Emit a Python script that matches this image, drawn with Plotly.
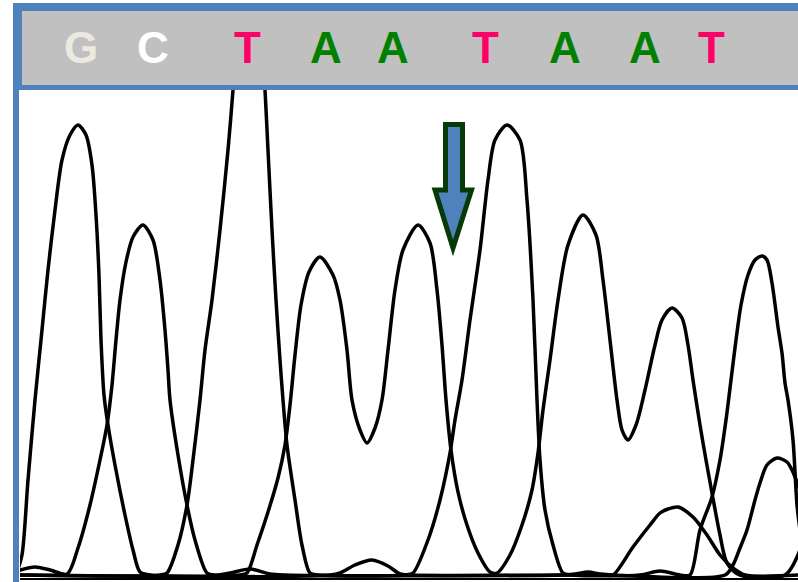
import plotly.graph_objects as go

W, H = 798, 582

# ---- Data: signal traces (scan position, intensity) ----
trace_T_x = [20,160,167,178,187,193,200,205,212,220,228,233,237,249,261,265,268,272,276,280,
             283,287,295,302,310,318,405,413,428,440,450,455,462,470,480,488,495,507,520,527,
             533,537,540,545,553,563,572,640,660,680,690,700,712,720,726,731,736,741,748,755,
             762,767,772,778,782,785,788,793,797,800]
trace_T_y = [3,3,5,33,73,118,178,228,278,348,428,488,548,573,548,488,428,348,278,218,
             178,133,78,33,5,3,3,5,38,78,125,158,198,258,328,398,438,453,438,378,
             278,178,118,68,33,5,3,3,7,3,3,48,81,118,158,198,238,273,303,318,
             322,318,295,251,225,195,178,138,73,48]

trace_A_x = [20,240,247,257,268,278,285,290,295,301,309,320,333,340,347,352,360,367,375,382,
             388,395,403,418,430,437,442,446,451,458,467,478,490,497,510,522,532,538,543,550,
             558,568,583,596,603,610,617,622,628,636,645,655,662,672,682,688,693,700,706,712,
             720,727,740,785,800]
trace_A_y = [3,3,5,33,66,100,133,173,223,273,306,321,303,278,228,178,148,135,150,178,
             228,288,328,353,335,288,233,178,128,86,53,25,6,5,23,53,88,125,168,218,
             278,333,363,343,298,238,178,148,138,153,188,233,258,270,260,233,198,153,118,85,
             43,15,3,3,28]

trace_G_x = [17,22,28,35,42,48,55,62,70,78,86,92,96,99,101,104,108,115,125,133,
             140,150,330,340,355,372,388,400,410,605,613,633,650,660,668,678,693,707,720,733,
             745,800]
trace_G_y = [6,23,98,178,248,308,368,418,443,453,443,413,363,303,238,183,153,113,63,28,
             6,3,3,5,13,18,12,4,3,3,3,31,53,65,69,71,61,43,23,10,
             3,3]

trace_C_x = [17,35,50,67,78,90,100,107,112,116,120,126,133,143,153,160,165,168,170,178,187,
             195,207,215,230,250,270,285,563,575,588,600,613,725,733,740,747,755,760,767,777,
             787,792,800]
trace_C_y = [7,11,8,4,30,73,118,153,193,238,278,316,341,353,338,298,248,208,178,123,73,
             38,5,3,5,9,4,3,3,4,6,4,3,3,13,30,48,78,95,113,120,
             116,108,88]

base_calls = ["G", "C", "T", "A", "A", "T", "A", "A", "T"]
call_pos_px = [81, 153, 247, 326, 393, 485, 565, 645, 711]
call_colors = {"G": "#ECEAE0", "C": "#FFFFFF", "T": "#FF0066", "A": "#008000"}

BLUE = "#4F81BD"
GRAY = "#C0C0C0"
ARROW_EDGE = "#063A06"

fig = go.Figure()
for xs, ys, name in [(trace_G_x, trace_G_y, "G"), (trace_C_x, trace_C_y, "C"),
                     (trace_A_x, trace_A_y, "A"), (trace_T_x, trace_T_y, "T")]:
    fig.add_trace(go.Scatter(x=xs, y=ys, mode="lines", name=name,
                             line=dict(color="black", width=3.5, shape="spline", smoothing=0.8),
                             hoverinfo="skip", showlegend=False))


def px(x):
    return x / W


def py(y):
    return (H - y) / H


shapes = []


def rect(x0, y0, x1, y1, color):
    shapes.append(dict(type="rect", xref="paper", yref="paper",
                       x0=px(x0), x1=px(x1), y0=py(y1), y1=py(y0),
                       fillcolor=color, line=dict(width=0), layer="above"))


rect(20, 11, 798, 85, GRAY)
rect(13, 3, 798, 11, BLUE)
rect(13, 85, 798, 90, BLUE)
rect(13, 3, 22, 90, BLUE)
rect(13, 90, 19, 582, BLUE)

# baseline
shapes.append(dict(type="line", xref="x", yref="y", x0=20, x1=798, y0=-1, y1=-1,
                   line=dict(color="black", width=2.2), layer="above"))

# arrow marker
arrow_path = "M 445.5,453.5 L 462.5,453.5 L 462.5,388 L 471.5,388 L 453,330 L 435,388 L 445.5,388 Z"
shapes.append(dict(type="path", xref="x", yref="y", path=arrow_path,
                   fillcolor=BLUE, line=dict(color=ARROW_EDGE, width=5), layer="above"))

annotations = []
for b, cx in zip(base_calls, call_pos_px):
    annotations.append(dict(x=px(cx), y=py(47), xref="paper", yref="paper",
                            text="<b>%s</b>" % b, showarrow=False,
                            xanchor="center", yanchor="middle",
                            font=dict(family="Liberation Sans, Arial, sans-serif",
                                      size=44, color=call_colors[b])))

fig.update_layout(
    width=W, height=H,
    margin=dict(l=0, r=0, t=0, b=0),
    paper_bgcolor="white", plot_bgcolor="white",
    xaxis=dict(domain=[20 / W, 1], range=[20, 798], visible=False, fixedrange=True),
    yaxis=dict(domain=[0, 492 / H], range=[-4, 488], visible=False, fixedrange=True),
    shapes=shapes, annotations=annotations,
)

fig.write_html("out.html", config={"displayModeBar": False},
               post_script="document.body.style.margin='0';document.body.style.overflow='hidden';")
